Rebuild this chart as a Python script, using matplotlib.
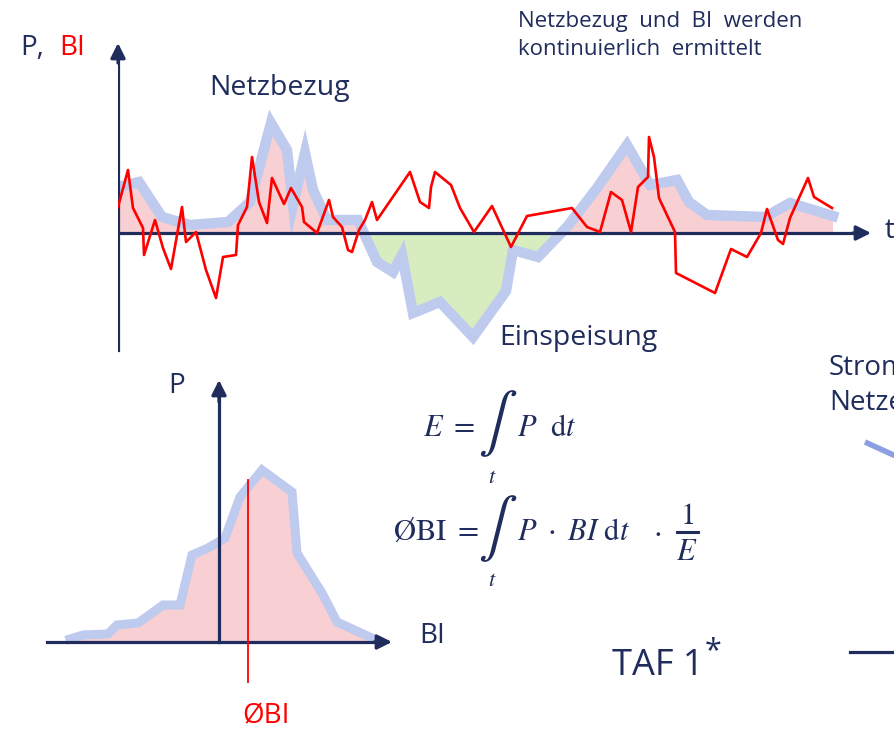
import numpy as np
import matplotlib.pyplot as plt

plt.rcParams['mathtext.fontset'] = 'stix'

navy = '#1f2c5c'
blue = '#bfcbee'
pink = '#f8cfd2'
green = '#d7edc0'
red = '#ff0000'

# Netzbezug / Einspeisung over time (origin = axis cross, P positive = Bezug)
t_power = [0, 21, 44, 72, 110, 132, 153, 169, 175, 187, 195, 209, 240, 259, 275,
           284, 295, 322, 355, 388, 395, 420, 449, 479, 509, 532, 559, 571, 589,
           647, 672, 715]
p_power = [46, 51, 16, 8, 11, 31, 110, 83, 28, 80, 43, 13, 13, -29, -39, -22, -80,
           -69, -104, -58, -17, -24, 6, 45, 88, 48, 53, 31, 18, 16, 30, 17]

# BI over time
t_bi = [0, 10, 15, 25, 26, 37, 45, 53, 64, 68, 78, 88, 98, 105, 118, 120, 129, 134,
        141, 149, 154, 166, 173, 184, 186, 199, 211, 215, 224, 230, 234, 241, 247,
        254, 259, 292, 302, 311, 313, 317, 333, 342, 356, 374, 393, 409, 454, 469,
        482, 493, 504, 513, 520, 530, 531, 536, 541, 548, 557, 558, 597, 613, 629,
        643, 649, 660, 665, 672, 690, 696, 714]
bi = [26, 63, 25, 5, -22, 13, -15, -36, 26, -9, 1, -37, -65, -24, -22, 8, 26, 76,
      31, 10, 55, 29, 45, 26, 11, 0, 33, 16, 6, -17, -19, 3, 13, 31, 13, 61, 31,
      25, 46, 61, 48, 25, 1, 27, -14, 17, 25, 6, 1, 41, 33, 1, 46, 56, 96, 76, 35,
      20, 1, -40, -60, -16, -24, 0, 24, -7, -11, 15, 55, 36, 25]

# Verteilung P ueber BI (origin = axis cross)
bi_dist = [-149, -136, -111, -102, -81, -56, -39, -27, -11, 6, 21, 43, 73, 78,
           103, 118, 153]
p_dist = [3, 7, 8, 17, 19, 37, 37, 87, 94, 104, 145, 172, 150, 89, 49, 20, 4]
bi_mean = 29

fig = plt.figure(figsize=(8.94, 7.41), dpi=100)
W, H = 894, 741

def px_axes(x0, y0, x1, y1):
    return fig.add_axes([x0 / W, 1 - y1 / H, (x1 - x0) / W, (y1 - y0) / H])

# background axes in pixel coordinates for labels
ax0 = fig.add_axes([0, 0, 1, 1])
ax0.set_xlim(0, W)
ax0.set_ylim(H, 0)
ax0.axis('off')

arrow = dict(arrowstyle='-|>', color=navy, lw=2.3, mutation_scale=22,
             shrinkA=0, shrinkB=0)

# ---- top chart ----
ax1 = px_axes(118, 35, 894, 355)
ax1.set_xlim(0, 776)
ax1.set_ylim(-122, 198)
ax1.axis('off')
t_arr = np.array(t_power, float)
p_arr = np.array(p_power, float)
ax1.fill_between(t_arr, 0, p_arr, where=p_arr >= 0, interpolate=True,
                 color=pink, lw=0, zorder=1)
ax1.fill_between(t_arr, 0, p_arr, where=p_arr <= 0, interpolate=True,
                 color=green, lw=0, zorder=1)
ax1.plot(t_arr, p_arr, color=blue, lw=7.5, solid_joinstyle='miter', zorder=2)
ax1.plot([0, 0], [-117, 175], color=navy, lw=2.3, zorder=3)
ax1.annotate('', xy=(0, 190), xytext=(0, 170), arrowprops=arrow)
ax1.plot([0, 740], [0, 0], color=navy, lw=2.3, zorder=3)
ax1.annotate('', xy=(753, 0), xytext=(735, 0), arrowprops=arrow)
ax1.plot(t_bi, bi, color=red, lw=1.9, zorder=4)

# ---- bottom chart ----
ax2 = px_axes(40, 370, 400, 700)
ax2.set_xlim(-179, 181)
ax2.set_ylim(-58, 272)
ax2.axis('off')
ax2.fill_between(bi_dist, 0, p_dist, color=pink, lw=0, zorder=1)
ax2.plot(bi_dist, p_dist, color=blue, lw=6.5, solid_joinstyle='miter', zorder=2)
ax2.plot([0, 0], [0, 245], color=navy, lw=2.3, zorder=3)
ax2.annotate('', xy=(0, 262), xytext=(0, 240), arrowprops=arrow)
ax2.plot([-172, 160], [0, 0], color=navy, lw=2.3, zorder=3)
ax2.annotate('', xy=(173, 0), xytext=(155, 0), arrowprops=arrow)
ax2.plot([bi_mean, bi_mean], [-40, 162], color=red, lw=1.3, zorder=4)

# ---- labels ----
sans = 'Open Sans'
kw = dict(family=sans, color=navy, va='center', ha='left')
ax0.text(20, 48, 'P,', fontsize=20, **kw)
ax0.text(59, 48, 'BI', fontsize=20, family=sans, color=red, va='center')
ax0.text(209, 88, 'Netzbezug', fontsize=20.5, **kw)
ax0.text(499, 338, 'Einspeisung', fontsize=20.5, **kw)
ax0.text(885, 231, 't', fontsize=20, **kw)
ax0.text(518, 27, 'Netzbezug  und  BI  werden', fontsize=16, family=sans,
         color=navy, va='baseline')
ax0.text(518, 55, 'kontinuierlich  ermittelt', fontsize=16, family=sans,
         color=navy, va='baseline')
ax0.text(168, 386, 'P', fontsize=20, **kw)
ax0.text(419, 636, 'BI', fontsize=20, **kw)
ax0.text(275, 584, 'E', fontsize=20, **kw)
ax0.text(242, 716, 'ØBI', fontsize=20, family=sans, color=red, va='center')
ax0.text(612, 666, 'TAF 1', fontsize=26, **kw)
ax0.text(705, 651, '*', fontsize=22, **kw)
ax0.text(829, 368, 'Strompreis', fontsize=20, **kw)
ax0.text(829, 403, 'Netzentgelt', fontsize=20, **kw)
ax0.plot([865, 900], [442, 458], color='#8c9fe0', lw=4, solid_capstyle='butt')
ax0.plot([850, 900], [652, 652], color=navy, lw=2.3)

# ---- formulas ----
mk = dict(color=navy, va='center')
ax0.text(423, 427, r'$E\ =$', fontsize=22, ha='left', **mk)
ax0.text(498, 424, r'$\int$', fontsize=42, ha='center', **mk)
ax0.text(492, 477, r'$t$', fontsize=16, ha='center', **mk)
ax0.text(517, 427, r'$P\ \ \mathrm{d}t$', fontsize=22, ha='left', **mk)
ax0.text(393, 532, r'$\mathrm{ØBI}\ =$', fontsize=22, ha='left', **mk)
ax0.text(498, 529, r'$\int$', fontsize=42, ha='center', **mk)
ax0.text(492, 580, r'$t$', fontsize=16, ha='center', **mk)
ax0.text(517, 532, r'$P\ \cdot\ BI\ \mathrm{d}t$', fontsize=22, ha='left', **mk)
ax0.text(657, 532, r'$\cdot$', fontsize=22, ha='center', **mk)
ax0.text(687, 516, r'$1$', fontsize=22, ha='center', **mk)
ax0.plot([677, 698], [532, 532], color=navy, lw=2.2)
ax0.text(687, 552, r'$E$', fontsize=22, ha='center', **mk)

fig.savefig('out.png', dpi=100)
